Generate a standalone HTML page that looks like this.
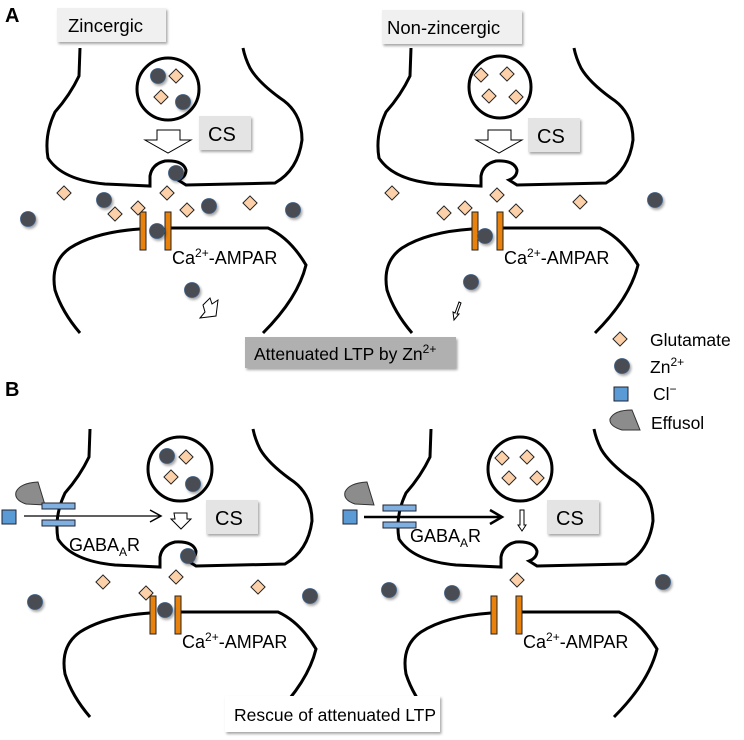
<!DOCTYPE html>
<html><head><meta charset="utf-8"><style>
body{margin:0;background:#fff;}
svg{display:block;font-family:"Liberation Sans",Arial,sans-serif;}
</style></head><body>
<svg width="744" height="740" viewBox="0 0 744 740" xmlns="http://www.w3.org/2000/svg">
<defs>
<filter id="sh" x="-50%" y="-50%" width="200%" height="200%"><feDropShadow dx="1.5" dy="2" stdDeviation="1.2" flood-color="#000" flood-opacity="0.35"/></filter>
<g id="zn"><circle r="7.5" fill="#4a4d52" stroke="#3a5a80" stroke-width="0.8" filter="url(#sh)"/></g>
<g id="gl"><rect x="-5" y="-5" width="10" height="10" transform="rotate(45)" fill="#fcd0a8" stroke="#222" stroke-width="1"/></g>
<g id="pre">
<path d="M80,48 L79,76 Q70,95 55,112 Q44,135 48,158 Q62,180 105,184 L150,186 L150,176 Q152,164 165,161 Q183,160 186,170 Q186,177 178,180 L186,185 L275,183 Q298,170 302,140 Q302,112 280,98 Q258,82 250,68 Q245,58 243,48" fill="none" stroke="#000" stroke-width="3"/>
</g>
<g id="post">
<path d="M80,333 Q62,312 55,290 Q50,262 70,248 Q95,232 140,229" fill="none" stroke="#000" stroke-width="3"/>
<path d="M170,228 L268,228 Q290,238 306,265 Q298,298 263,333" fill="none" stroke="#000" stroke-width="3"/>
<rect x="140" y="212" width="6" height="38" fill="#e8820c" stroke="#222" stroke-width="1"/>
<rect x="165" y="212" width="6" height="38" fill="#e8820c" stroke="#222" stroke-width="1"/>
<text x="172" y="264" font-size="18">Ca<tspan font-size="12" dy="-7">2+</tspan><tspan dy="7">-AMPAR</tspan></text>
</g>
<g id="csbox"><rect x="0" y="0" width="52" height="34" fill="#e4e4e4" filter="url(#sh)"/><text x="9" y="25" font-size="20">CS</text></g>
<g id="eff"><path d="M38,482 L45,505 L26,504 Q14,500 16,492 Q20,483 38,482 Z" fill="#8c8c8c" stroke="#333" stroke-width="1"/></g>
</defs>

<text x="5" y="22" font-size="20" font-weight="bold">A</text>
<text x="5" y="396" font-size="20" font-weight="bold">B</text>

<!-- A left -->
<rect x="57" y="8" width="109" height="34" fill="#f0f0f0" filter="url(#sh)"/>
<text x="68" y="32" font-size="18.5">Zincergic</text>
<use href="#pre"/>
<circle cx="168" cy="89" r="31" fill="none" stroke="#000" stroke-width="3"/>
<use href="#zn" x="158" y="76"/><use href="#zn" x="183" y="102"/>
<use href="#gl" x="176" y="76"/><use href="#gl" x="161" y="97"/>
<path d="M157,130 L180,130 L180,140 L191,140 L168,153 L145,140 L157,140 Z" fill="#fff" stroke="#000" stroke-width="1"/>
<use href="#csbox" x="199" y="116"/>
<use href="#post"/>
<use href="#zn" x="28" y="219"/><use href="#zn" x="104" y="200"/><use href="#zn" x="176" y="173"/>
<use href="#zn" x="209" y="206"/><use href="#zn" x="293" y="210"/><use href="#zn" x="157" y="231"/>
<use href="#zn" x="192" y="290"/>
<use href="#gl" x="64" y="193"/><use href="#gl" x="115" y="214"/><use href="#gl" x="138" y="208"/>
<use href="#gl" x="167" y="193"/><use href="#gl" x="187" y="210"/><use href="#gl" x="250" y="203"/>
<path d="M203,305 L210,298 L212,304 L218,300 L216,316 L200,318 L205,312 Z" fill="#fff" stroke="#000" stroke-width="1"/>

<!-- A right -->
<rect x="382" y="10" width="140" height="34" fill="#f0f0f0" filter="url(#sh)"/>
<text x="387" y="34" font-size="18.5">Non-zincergic</text>
<use href="#pre" x="331"/>
<circle cx="500" cy="87" r="31" fill="none" stroke="#000" stroke-width="3"/>
<use href="#gl" x="481" y="75"/><use href="#gl" x="507" y="74"/><use href="#gl" x="489" y="96"/><use href="#gl" x="516" y="97"/>
<path d="M488,130 L511,130 L511,140 L522,140 L499,153 L476,140 L488,140 Z" fill="#fff" stroke="#000" stroke-width="1"/>
<use href="#csbox" x="528" y="118"/>
<use href="#post" x="332"/>
<use href="#zn" x="655" y="200"/><use href="#zn" x="485" y="236"/><use href="#zn" x="471" y="282"/>
<use href="#gl" x="392" y="193"/><use href="#gl" x="444" y="213"/><use href="#gl" x="465" y="208"/>
<use href="#gl" x="497" y="195"/><use href="#gl" x="516" y="211"/><use href="#gl" x="580" y="202"/>
<path d="M459,302 L461,303 L457,314 L459,314 L454,320 L453,312 L455,313 Z" fill="#fff" stroke="#000" stroke-width="1"/>

<rect x="245" y="337" width="211" height="31" fill="#b0b0b0" filter="url(#sh)"/>
<text x="254" y="360" font-size="17.5">Attenuated LTP by Zn<tspan font-size="12" dy="-7">2+</tspan></text>

<!-- legend -->
<use href="#gl" x="620" y="339"/><text x="650" y="346" font-size="17.5">Glutamate</text>
<use href="#zn" x="622" y="366"/><text x="650" y="373" font-size="17.5">Zn<tspan font-size="12" dy="-7">2+</tspan></text>
<rect x="614" y="387" width="14" height="14" fill="#5b9bd5" stroke="#223" stroke-width="1"/><text x="653" y="400" font-size="17.5">Cl<tspan font-size="12" dy="-7">−</tspan></text>
<path d="M632,410 L640,430 L622,430 Q609,426 610,419 Q614,410 632,410 Z" fill="#8c8c8c" stroke="#333" stroke-width="1"/>
<text x="651" y="429" font-size="17.5">Effusol</text>

<!-- B left -->
<use href="#pre" x="10" y="381"/>
<circle cx="180" cy="469" r="32" fill="none" stroke="#000" stroke-width="3"/>
<use href="#zn" x="167" y="456"/><use href="#zn" x="193" y="484"/>
<use href="#gl" x="186" y="457"/><use href="#gl" x="171" y="477"/>
<use href="#eff"/>
<rect x="42" y="503" width="33" height="6" fill="#7fb0e0" stroke="#223" stroke-width="1"/>
<rect x="42" y="520" width="33" height="6" fill="#7fb0e0" stroke="#223" stroke-width="1"/>
<rect x="2" y="510" width="14" height="14" fill="#5b9bd5" stroke="#223" stroke-width="1"/>
<line x1="24" y1="516" x2="160" y2="516" stroke="#000" stroke-width="1.2"/>
<path d="M150,510 L161,516 L150,522" fill="none" stroke="#000" stroke-width="1.5"/>
<path d="M174,513 L187,513 L187,519 L191,519 L181,529 L171,519 L175,519 Z" fill="#fff" stroke="#000" stroke-width="1"/>
<text x="69" y="551" font-size="18">GABA<tspan font-size="12" dy="5">A</tspan><tspan dy="-5">R</tspan></text>
<use href="#csbox" x="206" y="500"/>
<use href="#post" x="10" y="384"/>
<use href="#zn" x="35" y="602"/><use href="#zn" x="188" y="556"/><use href="#zn" x="165" y="610"/><use href="#zn" x="310" y="596"/>
<use href="#gl" x="103" y="582"/><use href="#gl" x="146" y="593"/><use href="#gl" x="176" y="577"/><use href="#gl" x="258" y="587"/>

<!-- B right -->
<use href="#pre" x="351" y="381"/>
<circle cx="520" cy="469" r="32" fill="none" stroke="#000" stroke-width="3"/>
<use href="#gl" x="502" y="458"/><use href="#gl" x="527" y="457"/><use href="#gl" x="509" y="478"/><use href="#gl" x="537" y="478"/>
<use href="#eff" x="329"/>
<rect x="383" y="505" width="33" height="6" fill="#7fb0e0" stroke="#223" stroke-width="1"/>
<rect x="383" y="522" width="33" height="6" fill="#7fb0e0" stroke="#223" stroke-width="1"/>
<rect x="343" y="510" width="14" height="14" fill="#5b9bd5" stroke="#223" stroke-width="1"/>
<line x1="364" y1="517" x2="500" y2="517" stroke="#000" stroke-width="2.5"/>
<path d="M490,510 L502,517 L490,524" fill="none" stroke="#000" stroke-width="2.5"/>
<path d="M520,510 L524,510 L524,525 L526,525 L522,531 L518,525 L520,525 Z" fill="#fff" stroke="#000" stroke-width="1"/>
<text x="410" y="542" font-size="18">GABA<tspan font-size="12" dy="5">A</tspan><tspan dy="-5">R</tspan></text>
<use href="#csbox" x="547" y="500"/>
<use href="#post" x="351" y="384"/>
<use href="#zn" x="389" y="590"/><use href="#zn" x="452" y="593"/><use href="#zn" x="663" y="582"/>
<use href="#gl" x="517" y="580"/>

<rect x="225" y="696" width="215" height="36" fill="#fff" filter="url(#sh)"/>
<text x="234" y="721" font-size="17.5">Rescue of attenuated LTP</text>
</svg>
</body></html>
